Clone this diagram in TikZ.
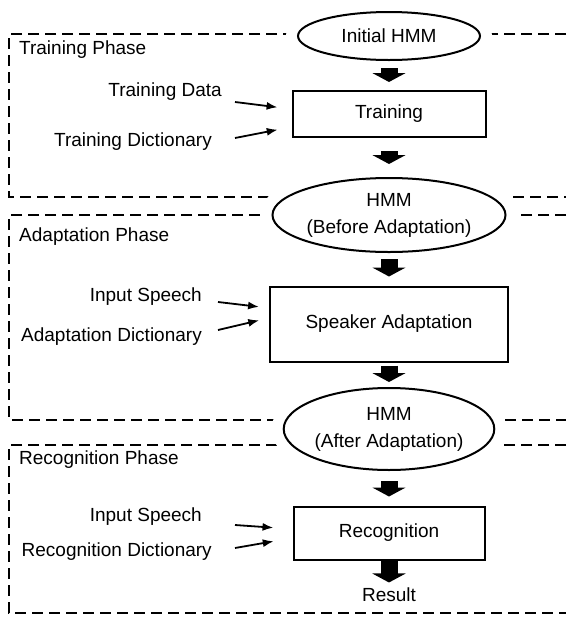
\documentclass[tikz,border=0pt]{standalone}
\usepackage{fontspec}
\setmainfont{Liberation Sans}
\usetikzlibrary{positioning, arrows.meta, shapes.geometric}

\begin{document}
\begin{tikzpicture}[
  x=1pt, y=-1pt,
  font=\fontsize{19}{27}\selectfont,
  % Styles
  phase/.style={line width=1.4pt, dash pattern=on 11pt off 6pt},
  model/.style={ellipse, draw, line width=2pt, fill=white, align=center, inner sep=0pt,
    preaction={draw=white, line width=24pt}},
  stage/.style={rectangle, draw, line width=2pt, fill=white, align=center},
  lbl/.style={inner sep=0pt},
  feed/.style={-{Latex[length=11pt,width=8pt]}, line width=1.8pt},
  flow/.style={-{Triangle[length=9pt,width=33pt]}, line width=17pt}
  ]
  \useasboundingbox (0,0) rectangle (566,619);

  % --- Phase frames (open on the right) ---
  \draw[phase] (566,34) -- (9,34) -- (9,197) -- (566,197);
  \draw[phase] (566,215) -- (9,215) -- (9,420) -- (566,420);
  \draw[phase] (566,445) -- (9,445) -- (9,613) -- (566,613);

  % --- Models and stages ---
  \node[model, minimum width=182pt, minimum height=48pt] (init) at (389,36) {Initial HMM};
  \node[stage, minimum width=193pt, minimum height=46pt] (train) at (389,114) {Training};
  \node[model, minimum width=208pt, minimum height=74pt] (before) at (389,215) {HMM\\(Before Adaptation)};
  \node[stage, minimum width=238pt, minimum height=75pt] (spk) at (389,324) {Speaker Adaptation};
  \node[model, minimum width=208pt, minimum height=82pt] (after) at (389,429) {HMM\\(After Adaptation)};
  \node[stage, minimum width=191pt, minimum height=53pt] (rec) at (389,533) {Recognition};
  \node (result) at (389,595) {Result};

  % --- Phase titles and inputs ---
  \node[lbl, anchor=west] (tphase) at (19,50) {Training Phase};
  \node[lbl, anchor=east] (tdata) at (222,92) {Training Data};
  \node[lbl, anchor=east] (tdict) at (212,142) {Training Dictionary};

  \node[lbl, anchor=west] (aphase) at (19,237) {Adaptation Phase};
  \node[lbl, anchor=east] (aspeech) at (202,297) {Input Speech};
  \node[lbl, anchor=east] (adict) at (202,337) {Adaptation Dictionary};

  \node[lbl, anchor=west] (rphase) at (19,460) {Recognition Phase};
  \node[lbl, anchor=east] (rspeech) at (202,517) {Input Speech};
  \node[lbl, anchor=east] (rdict) at (212,552) {Recognition Dictionary};

  % --- Main flow ---
  \draw[flow, shorten <=7pt, shorten >=8pt] (init) -- (train);
  \draw[flow, shorten <=13pt, shorten >=13pt] (train) -- (before);
  \draw[flow, shorten <=6pt, shorten >=9pt] (before) -- (spk);
  \draw[flow, shorten <=3pt, shorten >=5pt] (spk) -- (after);
  \draw[flow, shorten <=10pt, shorten >=9pt] (after) -- (rec);
  \draw[flow, shorten >=2pt] (rec) -- (result);

  % --- Inputs ---
  \draw[feed, shorten >=14pt] ([xshift=13pt,yshift=-10pt]tdata.east) -- ([yshift=5pt]train.west);
  \draw[feed, shorten >=14pt] ([xshift=23pt,yshift=4pt]tdict.east) -- ([yshift=-13pt]train.west);
  \draw[feed, shorten >=10pt] ([xshift=16pt,yshift=-5pt]aspeech.east) -- ([yshift=16pt]spk.west);
  \draw[feed, shorten >=10pt] ([xshift=16pt,yshift=7pt]adict.east) -- ([yshift=6pt]spk.west);
  \draw[feed, shorten >=19pt] ([xshift=33pt,yshift=-8pt]rspeech.east) -- ([yshift=4pt]rec.west);
  \draw[feed, shorten >=19pt] ([xshift=23pt,yshift=4pt]rdict.east) -- ([yshift=-5pt]rec.west);
\end{tikzpicture}
\end{document}
